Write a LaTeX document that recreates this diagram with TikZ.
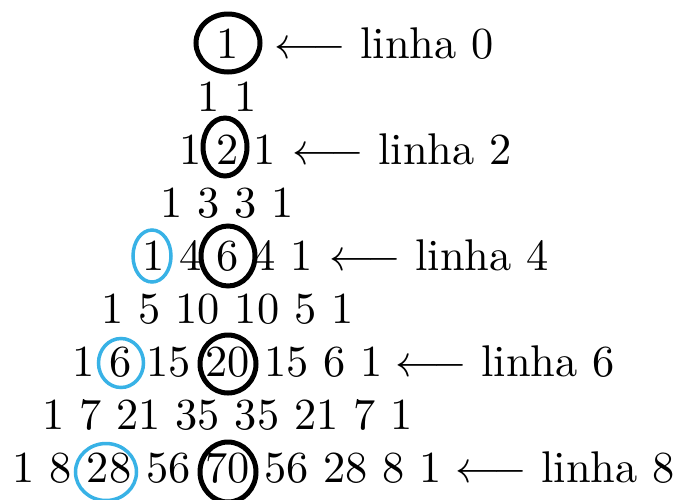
\documentclass[tikz,border=0pt]{standalone}
\usepackage{graphicx}
\usetikzlibrary{shapes.geometric}
\definecolor{ringblue}{RGB}{56,178,230}
\newcommand{\bigtxt}[1]{\scalebox{4.44}{#1}}
\tikzset{
  rowtext/.style={anchor=base, inner sep=0pt},
  lab/.style={anchor=base west, inner sep=0pt},
  blkring/.style={ellipse, draw=black, line width=5pt, inner sep=0pt},
  bluring/.style={ellipse, draw=ringblue, line width=3.5pt, inner sep=0pt}
}
\begin{document}
\begin{tikzpicture}[x=1pt,y=-1pt]
\useasboundingbox (0,0) rectangle (679,499);
% rows
\node[rowtext] (r0) at (227.5,58) {\bigtxt{1}};
\node[rowtext] (r1) at (227.5,111) {\bigtxt{1 1}};
\node[rowtext] (r2) at (227.5,164) {\bigtxt{1 2 1}};
\node[rowtext] (r3) at (227.5,217) {\bigtxt{1 3 3 1}};
\node[rowtext] (r4) at (227.5,270) {\bigtxt{1 4 6 4 1}};
\node[rowtext] (r5) at (227.5,323) {\bigtxt{1 5 10 10 5 1}};
\node[rowtext] (r6) at (227.5,376) {\bigtxt{1 6 15 20 15 6 1}};
\node[rowtext] (r7) at (227.5,429) {\bigtxt{1 7 21 35 35 21 7 1}};
\node[rowtext] (r8) at (227.5,482) {\bigtxt{1 8 28 56 70 56 28 8 1}};
% labels
\node[lab] (l0) at (274,58) {\bigtxt{$\longleftarrow$ linha 0}};
\node[lab] (l2) at (292,164) {\bigtxt{$\longleftarrow$ linha 2}};
\node[lab] (l4) at (329,270) {\bigtxt{$\longleftarrow$ linha 4}};
\node[lab] (l6) at (395,376) {\bigtxt{$\longleftarrow$ linha 6}};
\node[lab] (l8) at (455,482) {\bigtxt{$\longleftarrow$ linha 8}};
% rings
\node[blkring, minimum width=64pt, minimum height=58pt] (c0) at (228,43) {};
\node[blkring, minimum width=44pt, minimum height=58pt] (c2) at (225,147) {};
\node[bluring, minimum width=38pt, minimum height=52pt] (b4) at (152,256) {};
\node[blkring, minimum width=54pt, minimum height=60pt] (c4) at (228,256) {};
\node[bluring, minimum width=45pt, minimum height=49pt] (b6) at (121,363) {};
\node[blkring, minimum width=56pt, minimum height=58pt] (c6) at (228,364) {};
\node[bluring, minimum width=61pt, minimum height=57pt] (b8) at (106,472) {};
\node[blkring, minimum width=56pt, minimum height=60pt] (c8) at (228,472) {};
\end{tikzpicture}
\end{document}
